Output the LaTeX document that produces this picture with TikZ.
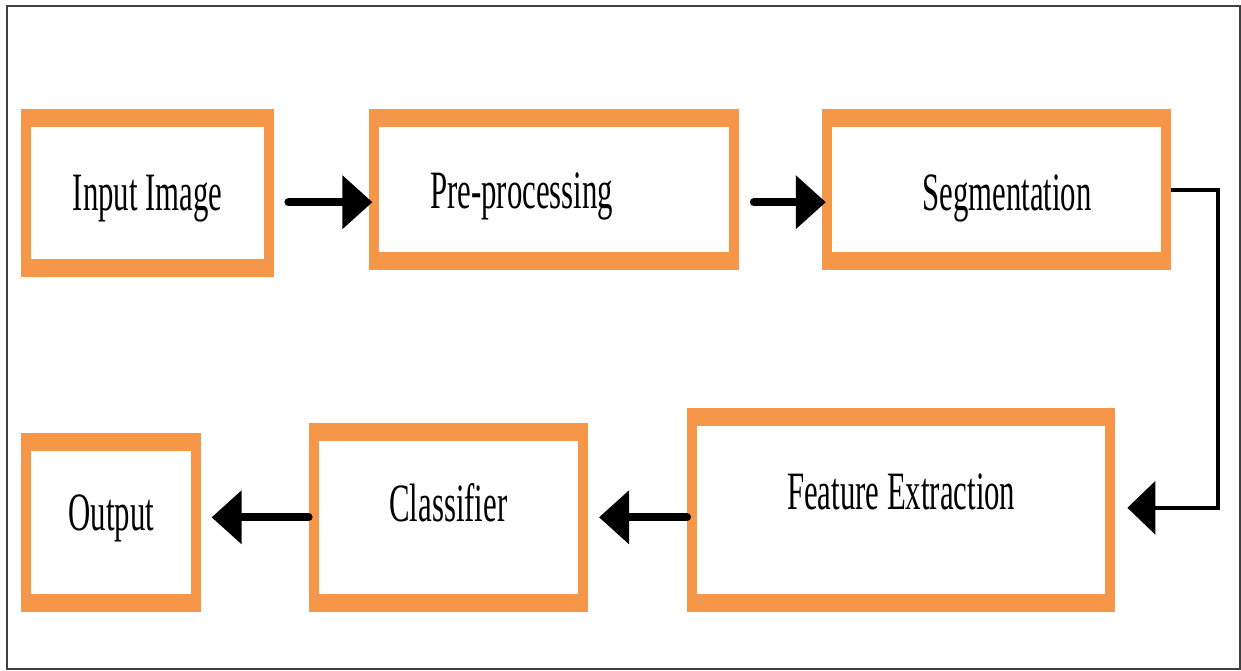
\documentclass[tikz,border=0pt]{standalone}
\usepackage{fontspec}
\setmainfont{Liberation Serif}
\usepackage{graphicx}
\usepackage{tikz}
\usetikzlibrary{arrows.meta}
\usetikzlibrary{positioning}
\definecolor{stageorange}{RGB}{245,150,72}
\newcommand{\squeezed}[1]{\scalebox{0.57}[1]{#1}}

\begin{document}
\begin{tikzpicture}[x=1pt, y=-1pt,
    stage/.style={fill=stageorange, inner sep=0pt, text depth=0pt,
        font=\fontsize{54}{60}\selectfont,
        path picture={\fill[white]
            ([xshift=10pt, yshift=-18pt]path picture bounding box.north west)
            rectangle ([xshift=-10pt, yshift=18pt]path picture bounding box.south east);}},
    flow/.style={line width=8pt, line cap=round, -{Triangle[length=30pt, width=52pt]}},
    turnback/.style={line width=4pt, -{Triangle[length=28pt, width=53pt]}}]
    \useasboundingbox (0,0) rectangle (1241,671);
    \draw[line width=2pt, draw=black!75] (7,6) rectangle (1240,669);

    \node[stage, minimum width=253pt, minimum height=168pt, text height=34pt,
        anchor=north west] (in-img) at (21,109) {\squeezed{Input Image}};
    \node[stage, minimum width=370pt, minimum height=161pt, text height=37pt,
        right=94pt of in-img.north east, anchor=north west] (pre-proc)
        {\squeezed{Pre-processing}\hspace*{64pt}};
    \node[stage, minimum width=349pt, minimum height=161pt, text height=41pt,
        right=83pt of pre-proc.north east, anchor=north west] (segment)
        {\hspace*{21pt}\squeezed{Segmentation}};
    \node[stage, minimum width=428pt, minimum height=204pt, text height=0pt,
        anchor=south west] (feat-ext) at (687,612) {\squeezed{Feature Extraction}};
    \node[stage, minimum width=279pt, minimum height=189pt, text height=9pt,
        left=99pt of feat-ext.south west, anchor=south east] (classify)
        {\squeezed{Classifier}};
    \node[stage, minimum width=180pt, minimum height=179pt, text height=17pt,
        left=107pt of classify.south west, anchor=south east] (output)
        {\squeezed{Output}};

    \draw[flow] ([xshift=14pt, yshift=-9pt]in-img.east) -- ([xshift=4pt, yshift=-12.5pt]pre-proc.west);
    \draw[flow] ([xshift=15pt, yshift=-12.5pt]pre-proc.east) -- ([xshift=4pt, yshift=-12.5pt]segment.west);
    \draw[turnback] (segment.east) -- ++(47pt,0) |- ([xshift=12pt, yshift=2pt]feat-ext.east);
    \draw[flow] (feat-ext.west |- classify.east) -- ([xshift=11pt]classify.east);
    \draw[flow] (classify.west) -- ([xshift=10pt]classify.west -| output.east);
\end{tikzpicture}
\end{document}
